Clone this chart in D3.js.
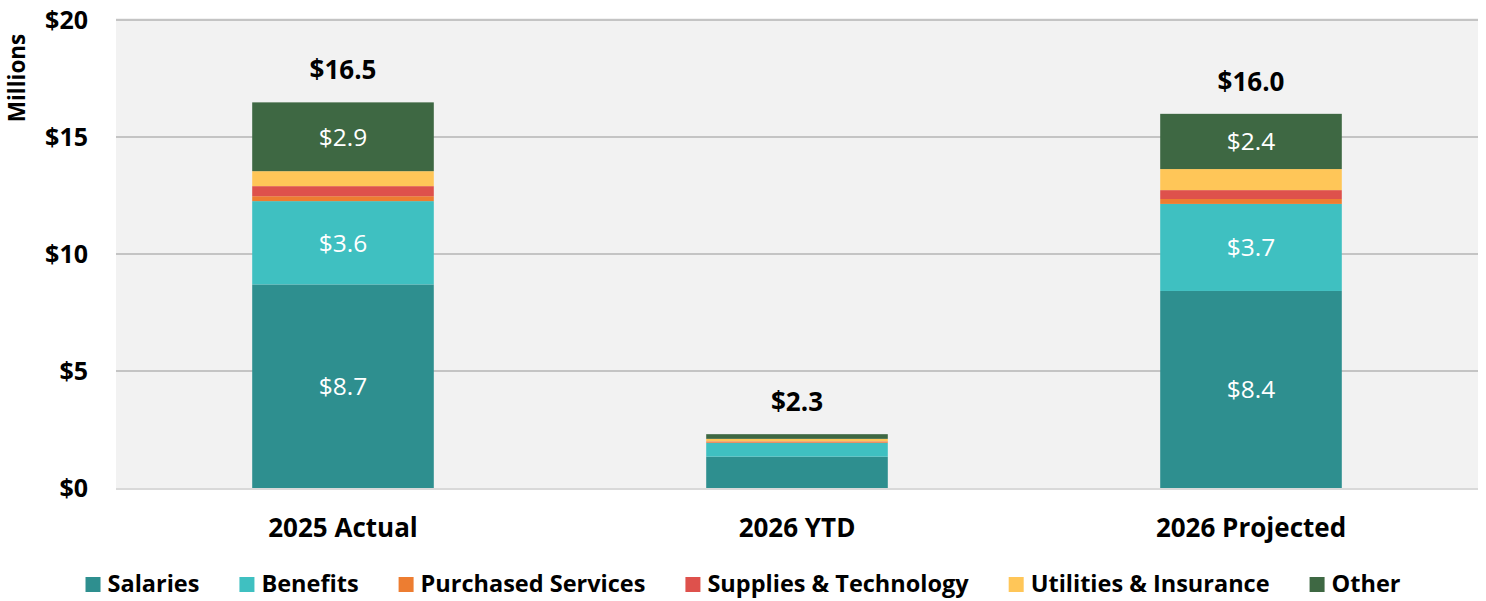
<!DOCTYPE html>
<html>
<head>
<meta charset="utf-8">
<script src="https://cdn.jsdelivr.net/npm/d3@7"></script>
<style>
  body { margin: 0; background: #fff; }
  svg text { font-family: "Open Sans", "Noto Sans", sans-serif; }
</style>
</head>
<body>
<svg id="chart" width="1486" height="601"></svg>
<script>
// data (millions)
var categories = ['2025 Actual', '2026 YTD', '2026 Projected'];
var seriesNames = ['Salaries', 'Benefits', 'Purchased Services', 'Supplies & Technology', 'Utilities & Insurance', 'Other'];
var salaries  = [8.70, 1.34, 8.42];
var benefits  = [3.56, 0.59, 3.72];
var purchased = [0.21, 0.03, 0.21];
var supplies  = [0.43, 0.03, 0.38];
var utilities = [0.64, 0.11, 0.90];
var other     = [2.94, 0.20, 2.36];
var totals    = [16.5, 2.3, 16.0];
var yTicks    = [0, 5, 10, 15, 20];

var colors = ['#2E8F8F', '#3FC0C1', '#ED7D31', '#DE514C', '#FFC658', '#3E6843'];

var rows = categories.map(function(c, i) {
    return {
        category: c,
        'Salaries': salaries[i],
        'Benefits': benefits[i],
        'Purchased Services': purchased[i],
        'Supplies & Technology': supplies[i],
        'Utilities & Insurance': utilities[i],
        'Other': other[i]
    };
});

var svg = d3.select('#chart');
var plot = { left: 116, right: 1478, top: 20, bottom: 488 };

var x = d3.scaleBand()
    .domain(categories)
    .range([plot.left, plot.right])
    .paddingInner(0.6)
    .paddingOuter(0.3);
var y = d3.scaleLinear().domain([0, 20]).range([plot.bottom, plot.top]);
var color = d3.scaleOrdinal().domain(seriesNames).range(colors);

// plot background
svg.append('rect')
    .attr('x', plot.left).attr('y', plot.top - 2)
    .attr('width', plot.right - plot.left)
    .attr('height', plot.bottom - plot.top + 2)
    .attr('fill', '#F2F2F2');

// gridlines
svg.append('g')
    .selectAll('line')
    .data(yTicks.filter(function(d) { return d > 0; }))
    .join('line')
    .attr('x1', plot.left).attr('x2', plot.right)
    .attr('y1', function(d) { return y(d); })
    .attr('y2', function(d) { return y(d); })
    .attr('stroke', '#C4C4C4')
    .attr('stroke-width', 2);

// y axis labels
var yAxis = svg.append('g')
    .attr('transform', 'translate(' + (plot.left - 28) + ',0)')
    .call(d3.axisLeft(y).tickValues(yTicks).tickSize(0).tickPadding(0)
        .tickFormat(function(d) { return '$' + d; }));
yAxis.select('.domain').remove();
yAxis.selectAll('text')
    .attr('font-family', '"Open Sans", sans-serif')
    .attr('font-size', 25)
    .attr('font-weight', 700)
    .attr('fill', '#000');

svg.append('text')
    .attr('transform', 'translate(25,78) rotate(-90)')
    .attr('text-anchor', 'middle')
    .attr('font-size', 22.5)
    .attr('font-weight', 700)
    .text('Millions');

// stacked bars
var stack = d3.stack().keys(seriesNames)(rows);

var layers = svg.append('g')
    .selectAll('g')
    .data(stack)
    .join('g')
    .attr('fill', function(d) { return color(d.key); });

layers.selectAll('rect')
    .data(function(d) { return d; })
    .join('rect')
    .attr('x', function(d) { return x(d.data.category); })
    .attr('width', x.bandwidth())
    .attr('y', function(d) { return y(d[1]); })
    .attr('height', function(d) { return y(d[0]) - y(d[1]); });

// baseline
svg.append('line')
    .attr('x1', plot.left).attr('x2', plot.right)
    .attr('y1', y(0) + 1).attr('y2', y(0) + 1)
    .attr('stroke', '#D9D9D9')
    .attr('stroke-width', 2);

// segment labels (only the big ones)
layers.selectAll('text')
    .data(function(d) { return d; })
    .join('text')
    .filter(function(d) { return d[1] - d[0] >= 2; })
    .attr('x', function(d) { return x(d.data.category) + x.bandwidth() / 2; })
    .attr('y', function(d) { return (y(d[0]) + y(d[1])) / 2; })
    .attr('dy', '0.36em')
    .attr('text-anchor', 'middle')
    .attr('font-size', 24.5)
    .attr('fill', '#fff')
    .text(function(d) { return '$' + (d[1] - d[0]).toFixed(1); });

// totals
svg.append('g')
    .selectAll('text')
    .data(categories)
    .join('text')
    .attr('x', function(d) { return x(d) + x.bandwidth() / 2; })
    .attr('y', function(d, i) { return y(d3.sum(stack, function(s) { return s[i][1] - s[i][0]; })) - 23; })
    .attr('text-anchor', 'middle')
    .attr('font-size', 26)
    .attr('font-weight', 700)
    .text(function(d, i) { return '$' + totals[i].toFixed(1); });

// category axis
var xAxis = svg.append('g')
    .attr('transform', 'translate(0,' + (plot.bottom + 31) + ')')
    .call(d3.axisBottom(x).tickSize(0).tickPadding(0));
xAxis.select('.domain').remove();
xAxis.selectAll('text')
    .attr('font-family', '"Open Sans", sans-serif')
    .attr('font-size', 26)
    .attr('font-weight', 700)
    .attr('fill', '#000');

// legend, centered under the chart
var legend = svg.append('g').attr('transform', 'translate(0,584)');
var items = legend.selectAll('g')
    .data(seriesNames)
    .join('g');
items.append('rect')
    .attr('y', -7)
    .attr('width', 15).attr('height', 15)
    .attr('fill', function(d) { return color(d); });
items.append('text')
    .attr('x', 22)
    .attr('dy', '0.36em')
    .attr('font-size', 23.5)
    .attr('font-weight', 700)
    .text(function(d) { return d; });

var gap = 40;
var offsets = [], pos = 0;
items.each(function(d) {
    offsets.push(pos);
    pos += 22 + this.querySelector('text').getComputedTextLength() + gap;
});
var legendWidth = pos - gap;
var start = (1486 - legendWidth) / 2;
items.attr('transform', function(d, i) { return 'translate(' + (start + offsets[i]) + ',0)'; });
</script>
</body>
</html>
